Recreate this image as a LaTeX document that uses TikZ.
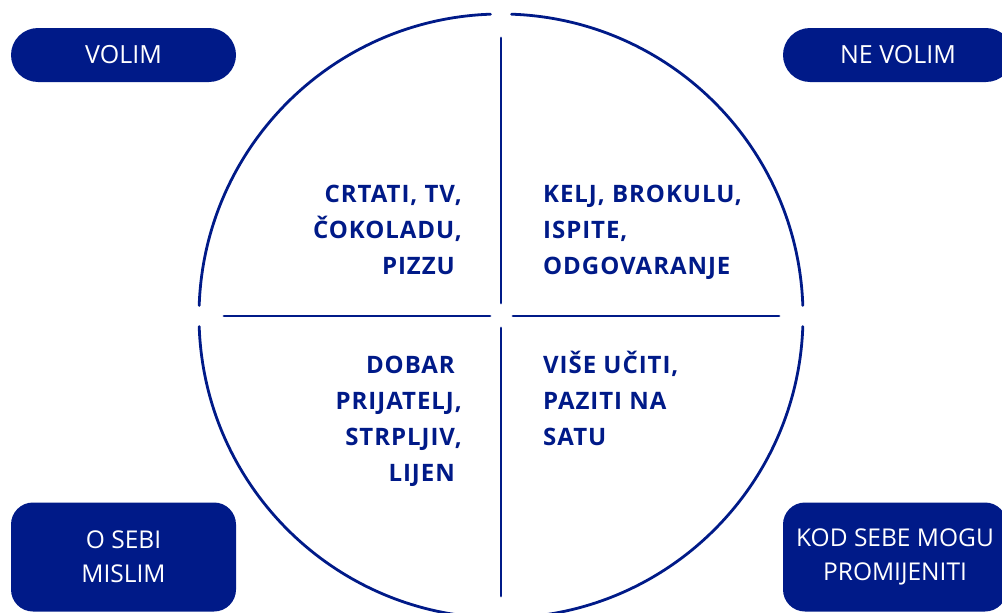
\documentclass[tikz,border=0pt]{standalone}
\usepackage{fontspec}
\setmainfont{Open Sans}
\newfontfamily\quadfont{Open Sans}[UprightFont=* Bold,LetterSpace=4]
\definecolor{navy}{RGB}{0,26,136}
\begin{document}
\begin{tikzpicture}[x=1pt,y=-1pt,
  pill/.style={fill=navy,rounded corners=27pt,minimum width=225pt,minimum height=54pt,inner sep=0pt,text=white,font=\fontsize{25}{34}\selectfont,align=center},
  blockbox/.style={fill=navy,rounded corners=22pt,minimum width=225pt,minimum height=109pt,inner sep=0pt,text=white,font=\fontsize{24.5}{34}\selectfont,align=center},
  quad/.style={text=navy,inner sep=0pt,font=\quadfont\fontsize{24}{36}\selectfont},
  ring/.style={draw=navy,line width=2.8pt,line cap=round}]
\useasboundingbox (0,0) rectangle (1002,613);
\coordinate (C) at (501,316);
% circle in four arcs
\draw[ring] (C) ++(92:302) arc[start angle=92,end angle=178,radius=302];
\draw[ring] (C) ++(182:302) arc[start angle=182,end angle=268,radius=302];
\draw[ring] (C) ++(272:302) arc[start angle=272,end angle=358,radius=302];
\draw[ring] (C) ++(2:302) arc[start angle=2,end angle=88,radius=302];
% cross lines
\coordinate (vt) at (501,38); \coordinate (vm1) at (501,303);
\coordinate (vm2) at (501,328); \coordinate (vb) at (501,596);
\coordinate (hl) at (224,316); \coordinate (hm1) at (490,316);
\coordinate (hm2) at (513,316); \coordinate (hr) at (779,316);
\draw[ring] (vt) -- (vm1);
\draw[ring] (vm2) -- (vb);
\draw[ring] (hl) -- (hm1);
\draw[ring] (hm2) -- (hr);
% labels
\node[pill] (volim) at (123.5,55) {VOLIM};
\node[pill,minimum width=230pt] (nevolim) at (898,55) {NE VOLIM};
\node[blockbox] (sebi) at (123.5,557) {O SEBI\\MISLIM};
\node[blockbox,minimum width=224pt] (kod) at (895,557) {KOD SEBE MOGU\\PROMIJENITI};
% quadrant texts (base anchor = last line)
\node[quad,anchor=base east,align=right] (q1) at (462,274) {CRTATI, TV,\\ČOKOLADU,\\PIZZU\hspace*{7pt}};
\node[quad,anchor=base west,align=left] (q2) at (543,274) {KELJ, BROKULU,\\ISPITE,\\ODGOVARANJE};
\node[quad,anchor=base east,align=right] (q3) at (462,481) {DOBAR\hspace*{7pt}\\PRIJATELJ,\\STRPLJIV,\\LIJEN\hspace*{7pt}};
\node[quad,anchor=base west,align=left] (q4) at (543,445) {VIŠE UČITI,\\PAZITI NA\\SATU};
\end{tikzpicture}
\end{document}
